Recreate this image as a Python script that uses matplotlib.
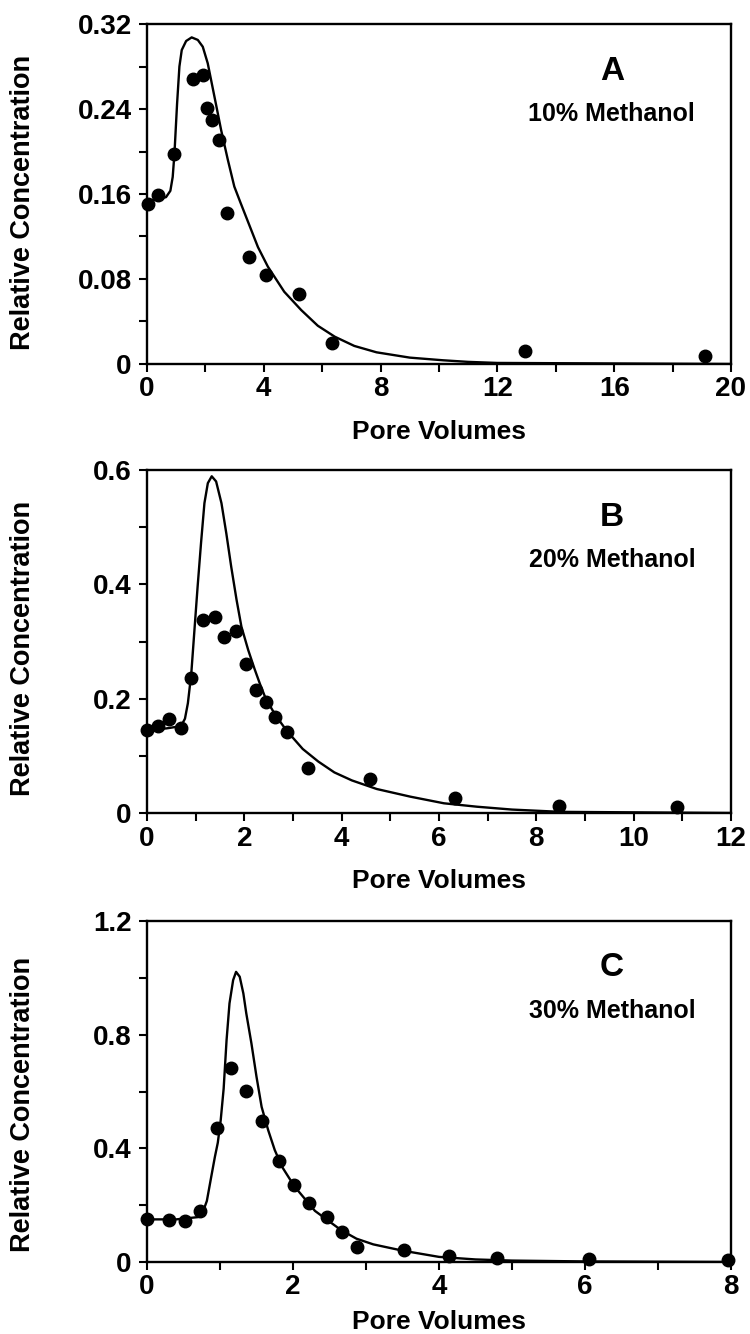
import matplotlib
matplotlib.use("Agg")
import matplotlib.pyplot as plt
from matplotlib.ticker import MultipleLocator, FixedLocator, FixedFormatter

plt.rcParams['font.family'] = ['Liberation Sans', 'DejaVu Sans']
plt.rcParams['font.weight'] = 'bold'

# ---------------- Panel A : 10% Methanol ----------------
A_x = [0.02, 0.37, 0.91, 1.57, 1.93, 2.06, 2.23, 2.45, 2.74, 3.49, 4.09, 5.20, 6.34, 12.94, 19.12]
A_y = [0.151, 0.159, 0.198, 0.268, 0.272, 0.241, 0.230, 0.211, 0.142, 0.101, 0.0835, 0.0659, 0.0195, 0.0122, 0.0075]
A_cx = [0, 0.30, 0.65, 0.80, 0.88, 0.94, 1.03, 1.11, 1.19, 1.34, 1.53, 1.74, 1.91, 2.08, 2.31, 2.54,
        2.77, 2.99, 3.20, 3.40, 3.80, 4.14, 4.70, 5.28, 5.85, 6.43, 7.10, 7.86, 9.00, 10.14, 11.00, 12.00, 20.0]
A_cy = [0.153, 0.155, 0.157, 0.163, 0.176, 0.198, 0.245, 0.280, 0.2955, 0.304, 0.3074, 0.305, 0.2986,
        0.283, 0.2516, 0.220, 0.192, 0.167, 0.152, 0.138, 0.110, 0.0916, 0.068, 0.0508, 0.036, 0.0257, 0.017,
        0.0110, 0.006, 0.0035, 0.002, 0.001, 0.0]

# ---------------- Panel B : 20% Methanol ----------------
B_x = [0.01, 0.23, 0.46, 0.70, 0.91, 1.15, 1.39, 1.59, 1.82, 2.03, 2.23, 2.44, 2.64, 2.87, 3.30, 4.58, 6.32, 8.47, 10.89]
B_y = [0.145, 0.153, 0.164, 0.148, 0.237, 0.338, 0.343, 0.308, 0.319, 0.261, 0.215, 0.194, 0.168, 0.141, 0.078, 0.059, 0.0257, 0.0128, 0.011]
B_cx = [0, 0.40, 0.70, 0.78, 0.84, 0.91, 0.98, 1.04, 1.11, 1.18, 1.25, 1.33, 1.42, 1.53, 1.63, 1.73,
        1.84, 1.94, 2.08, 2.21, 2.32, 2.44, 2.64, 2.87, 3.20, 3.52, 3.85, 4.21, 4.72, 5.41, 6.10, 6.78,
        7.50, 8.50, 12.0]
B_cy = [0.145, 0.148, 0.152, 0.165, 0.192, 0.244, 0.326, 0.396, 0.472, 0.542, 0.577, 0.589, 0.580,
        0.542, 0.489, 0.431, 0.373, 0.326, 0.285, 0.252, 0.226, 0.200, 0.171, 0.144, 0.112, 0.090,
        0.071, 0.057, 0.042, 0.0286, 0.017, 0.011, 0.006, 0.002, 0.0]

# ---------------- Panel C : 30% Methanol ----------------
C_x = [0.0, 0.30, 0.52, 0.72, 0.96, 1.155, 1.35, 1.575, 1.81, 2.01, 2.22, 2.46, 2.67, 2.87, 3.52, 4.14, 4.80, 6.06, 7.96]
C_y = [0.150, 0.148, 0.145, 0.180, 0.470, 0.681, 0.602, 0.497, 0.356, 0.272, 0.206, 0.157, 0.107, 0.054, 0.042, 0.022, 0.015, 0.0095, 0.007]
C_cx = [0, 0.40, 0.70, 0.76, 0.82, 0.88, 0.93, 0.97, 1.01, 1.05, 1.09, 1.13, 1.18, 1.22, 1.27, 1.32,
        1.36, 1.43, 1.50, 1.57, 1.66, 1.75, 1.85, 2.02, 2.30, 2.66, 2.87, 3.10, 3.50, 4.00, 4.50, 5.00,
        6.00, 8.00]
C_cy = [0.150, 0.150, 0.158, 0.172, 0.215, 0.300, 0.370, 0.420, 0.500, 0.610, 0.781, 0.910, 0.992,
        1.021, 1.004, 0.945, 0.875, 0.770, 0.652, 0.546, 0.464, 0.394, 0.335, 0.266, 0.180, 0.112,
        0.082, 0.062, 0.040, 0.018, 0.009, 0.005, 0.002, 0.0]

panels = [
    dict(x=A_x, y=A_y, cx=A_cx, cy=A_cy, xlim=20, ylim=0.32,
         xmaj=[0, 4, 8, 12, 16, 20], xmin=2, ymaj=[0, 0.08, 0.16, 0.24, 0.32],
         ylab=['0', '0.08', '0.16', '0.24', '0.32'], ymin=0.04,
         letter='A', sub='10% Methanol', top=24, bot=364, xl=432, yl=202),
    dict(x=B_x, y=B_y, cx=B_cx, cy=B_cy, xlim=12, ylim=0.6,
         xmaj=[0, 2, 4, 6, 8, 10, 12], xmin=1, ymaj=[0, 0.2, 0.4, 0.6],
         ylab=['0', '0.2', '0.4', '0.6'], ymin=0.1,
         letter='B', sub='20% Methanol', top=470, bot=813, xl=881, yl=648),
    dict(x=C_x, y=C_y, cx=C_cx, cy=C_cy, xlim=8, ylim=1.2,
         xmaj=[0, 2, 4, 6, 8], xmin=1, ymaj=[0, 0.4, 0.8, 1.2],
         ylab=['0', '0.4', '0.8', '1.2'], ymin=0.2,
         letter='C', sub='30% Methanol', top=921, bot=1262, xl=1322, yl=1104),
]

W, H = 750, 1334
fig = plt.figure(figsize=(W / 100, H / 100), dpi=100)

left_px, right_px = 147, 731
for p in panels:
    ax = fig.add_axes([left_px / W, 1 - p['bot'] / H, (right_px - left_px) / W, (p['bot'] - p['top']) / H])
    ax.plot(p['cx'], p['cy'], color='black', lw=1.7, zorder=2)
    ax.plot(p['x'], p['y'], 'o', color='black', ms=9, zorder=3, clip_on=False)
    ax.set_xlim(0, p['xlim'])
    ax.set_ylim(0, p['ylim'])
    ax.xaxis.set_major_locator(FixedLocator(p['xmaj']))
    ax.xaxis.set_minor_locator(MultipleLocator(p['xmin']))
    ax.yaxis.set_major_locator(FixedLocator(p['ymaj']))
    ax.yaxis.set_major_formatter(FixedFormatter(p['ylab']))
    ax.yaxis.set_minor_locator(MultipleLocator(p['ymin']))
    ax.tick_params(which='both', direction='out', length=6, width=1.5, labelsize=20, pad=3)
    ax.tick_params(axis='y', which='both', pad=5)
    for lab in ax.get_xticklabels() + ax.get_yticklabels():
        lab.set_fontweight('bold')
    for s in ax.spines.values():
        s.set_linewidth(1.7)
    ax.text(0.796, 1 - 47 / (p['bot'] - p['top']), p['letter'], transform=ax.transAxes,
            ha='center', va='center', fontsize=24, fontweight='bold')
    ax.text(0.796, 1 - 90 / (p['bot'] - p['top']), p['sub'], transform=ax.transAxes,
            ha='center', va='center', fontsize=18, fontweight='bold')
    fig.text((left_px + right_px) / 2 / W, 1 - p['xl'] / H, 'Pore Volumes',
             ha='center', va='center', fontsize=19, fontweight='bold')
    fig.text(23 / W, 1 - p['yl'] / H, 'Relative Concentration', rotation=90,
             ha='center', va='center', fontsize=19.5, fontweight='bold')

fig.savefig('out.png', dpi=100)
